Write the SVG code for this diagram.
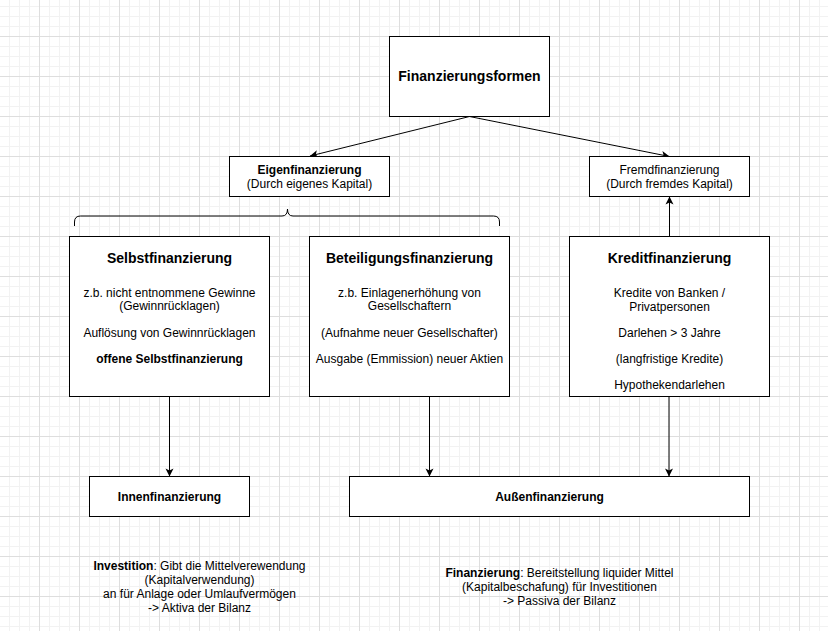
<svg xmlns="http://www.w3.org/2000/svg" width="828" height="631" viewBox="0 0 828 631">
  <defs>
    <pattern id="grid" patternUnits="userSpaceOnUse" x="0" y="0" width="40" height="40">
      <path d="M9.5,0V40M19.5,0V40M29.5,0V40M0,6.5H40M0,16.5H40M0,26.5H40" stroke="#f2f2f2" stroke-width="1" fill="none"/>
      <path d="M39.5,0V40M0,36.5H40" stroke="#dedede" stroke-width="1" fill="none"/>
    </pattern>
    <marker id="arrow" markerUnits="userSpaceOnUse" markerWidth="9" markerHeight="9" refX="8" refY="4" orient="auto" viewBox="0 0 9 9" overflow="visible">
      <path d="M0,0 L8,4 L0,8 L2,4 Z" fill="#000"/>
    </marker>
    <style>
      .box { fill: #ffffff; stroke: #000000; stroke-width: 1; }
      .t { font-family: "Liberation Sans", Arial, Helvetica, sans-serif; font-size: 12px; fill: #000; text-anchor: middle; }
      .b { font-weight: bold; }
      .h { font-size: 14px; font-weight: bold; }
      .edge { fill: none; stroke: #000; stroke-width: 1; marker-end: url(#arrow); }
    </style>
  </defs>
  <rect x="0" y="0" width="828" height="631" fill="#ffffff"/>
  <rect x="0" y="0" width="828" height="631" fill="url(#grid)"/>

  <g id="connectors">
    <path class="edge" d="M469.5,116.5 L310,156"/>
    <path class="edge" d="M469.5,116.5 L669.5,156.5"/>
    <path class="edge" d="M669.5,236.5 L669.5,196.5"/>
    <path class="edge" d="M169.5,396.5 L169.5,476.5"/>
    <path class="edge" d="M429.5,396.5 L429.5,476.5"/>
    <path class="edge" d="M669,396.5 L669,476.5" stroke="#555"/>
  </g>

  <g id="finanzierungsformen">
    <rect class="box" x="389.5" y="36.5" width="160" height="80"/>
    <text class="t h" x="469.5" y="81">Finanzierungsformen</text>
  </g>

  <g id="eigenfinanzierung">
    <rect class="box" x="229.5" y="156.5" width="160" height="40"/>
    <text class="t b" x="309.5" y="173.5">Eigenfinanzierung</text>
    <text class="t" x="309.5" y="187.5">(Durch eigenes Kapital)</text>
  </g>

  <g id="fremdfinanzierung">
    <rect class="box" x="589.5" y="156.5" width="160" height="40"/>
    <text class="t" x="669.5" y="173.5">Fremdfinanzierung</text>
    <text class="t" x="669.5" y="187.5">(Durch fremdes Kapital)</text>
  </g>

  <g id="brace">
    <path d="M74.5,226 V222 Q74.5,216 80.5,216 H282 Q287.5,216 287.5,209 Q287.5,216 293,216 H493.5 Q499.5,216 499.5,222 V226" fill="none" stroke="#000" stroke-width="1"/>
  </g>

  <g id="selbstfinanzierung">
    <rect class="box" x="69.5" y="236.5" width="200" height="160"/>
    <text class="t h" x="169.5" y="263">Selbstfinanzierung</text>
    <text class="t" x="169.5" y="296.5">z.b. nicht entnommene Gewinne</text>
    <text class="t" x="169.5" y="310">(Gewinnrücklagen)</text>
    <text class="t" x="169.5" y="336.5">Auflösung von Gewinnrücklagen</text>
    <text class="t b" x="169.5" y="362.5">offene Selbstfinanzierung</text>
  </g>

  <g id="beteiligungsfinanzierung">
    <rect class="box" x="309.5" y="236.5" width="200" height="160"/>
    <text class="t h" x="409.5" y="263">Beteiligungsfinanzierung</text>
    <text class="t" x="409.5" y="296.5">z.b. Einlagenerhöhung von</text>
    <text class="t" x="409.5" y="310">Gesellschaftern</text>
    <text class="t" x="409.5" y="336.5">(Aufnahme neuer Gesellschafter)</text>
    <text class="t" x="409.5" y="362.5">Ausgabe (Emmission) neuer Aktien</text>
  </g>

  <g id="kreditfinanzierung">
    <rect class="box" x="569.5" y="236.5" width="200" height="160"/>
    <text class="t h" x="669.5" y="263">Kreditfinanzierung</text>
    <text class="t" x="669.5" y="296.5">Kredite von Banken /</text>
    <text class="t" x="669.5" y="310.5">Privatpersonen</text>
    <text class="t" x="669.5" y="336.5">Darlehen &gt; 3 Jahre</text>
    <text class="t" x="669.5" y="362.5">(langfristige Kredite)</text>
    <text class="t" x="669.5" y="388.5">Hypothekendarlehen</text>
  </g>

  <g id="innenfinanzierung">
    <rect class="box" x="89.5" y="476.5" width="160" height="40"/>
    <text class="t b" x="169.5" y="500.5">Innenfinanzierung</text>
  </g>

  <g id="aussenfinanzierung">
    <rect class="box" x="349.5" y="476.5" width="400" height="40"/>
    <text class="t b" x="549.5" y="500.5">Außenfinanzierung</text>
  </g>

  <g id="investition-note">
    <text class="t" x="199.5" y="569.5"><tspan class="b">Investition</tspan>: Gibt die Mittelverewendung</text>
    <text class="t" x="199.5" y="583.7">(Kapitalverwendung)</text>
    <text class="t" x="199.5" y="597.9">an für Anlage oder Umlaufvermögen</text>
    <text class="t" x="199.5" y="612.1">-&gt; Aktiva der Bilanz</text>
  </g>

  <g id="finanzierung-note">
    <text class="t" x="559.5" y="576.5"><tspan class="b">Finanzierung</tspan>: Bereitstellung liquider Mittel</text>
    <text class="t" x="559.5" y="590.7">(Kapitalbeschafung) für Investitionen</text>
    <text class="t" x="559.5" y="604.9">-&gt; Passiva der Bilanz</text>
  </g>
</svg>
